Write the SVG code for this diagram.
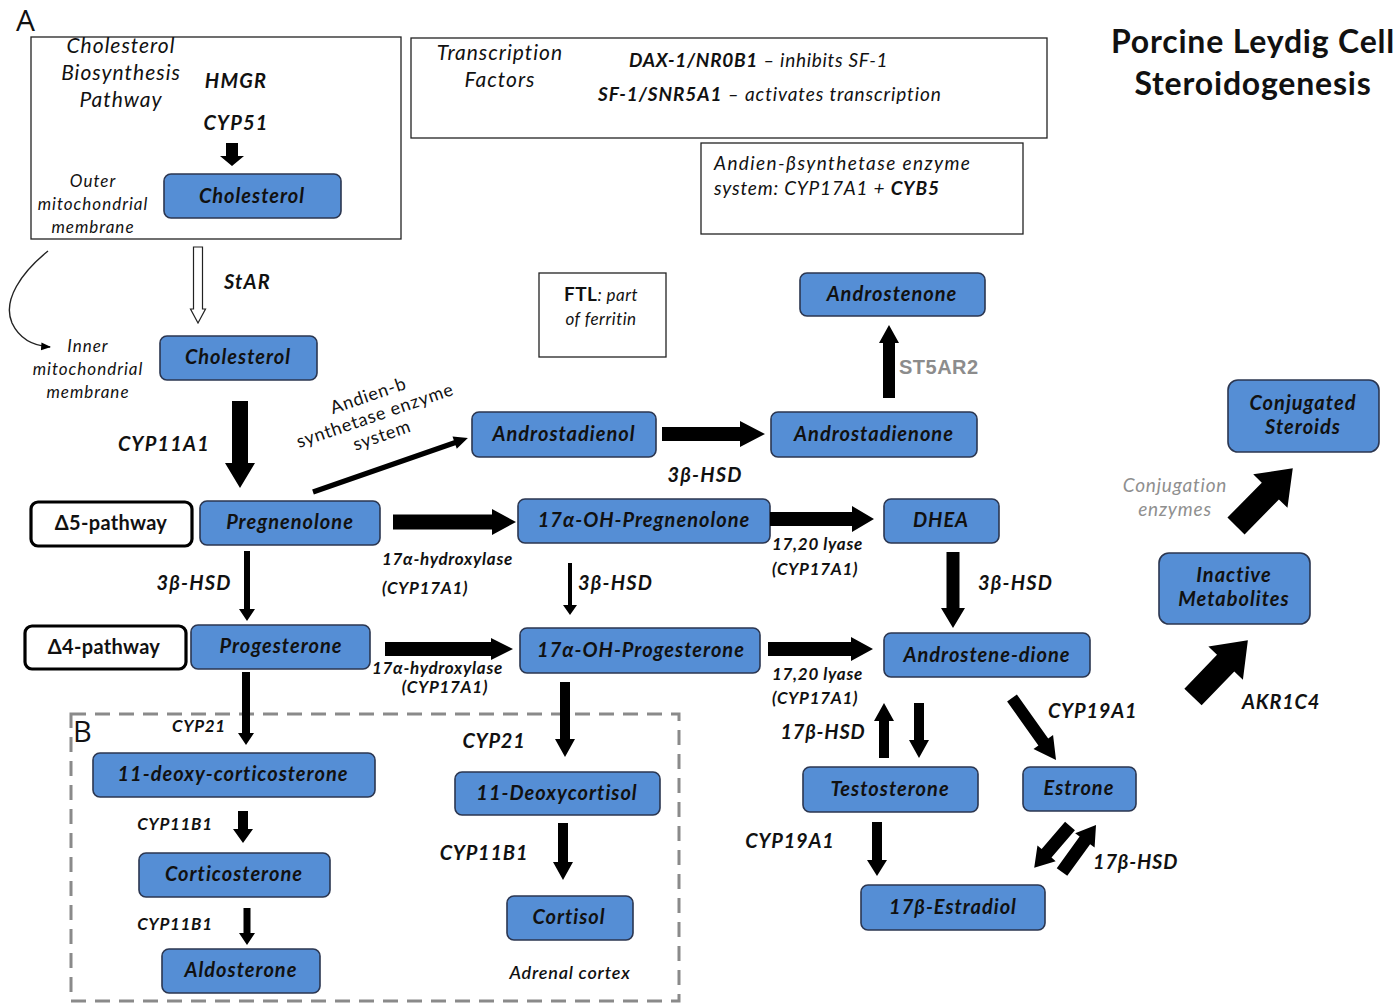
<svg xmlns="http://www.w3.org/2000/svg" width="1399" height="1004" viewBox="0 0 1399 1004">
<style>
text{font-family:Lato,"Open Sans","Liberation Sans",sans-serif;fill:#111}
.n rect{fill:#558ED5;stroke:#2b3650;stroke-width:1.6}
.n text{font-size:20px;font-weight:bold;font-style:italic;text-anchor:middle;letter-spacing:1px}
.box{fill:#fff;stroke:#222;stroke-width:1.3}
.pw rect{fill:#fff;stroke:#000;stroke-width:3.2}
.pw text{font-size:20px;font-weight:bold;text-anchor:middle;letter-spacing:0.3px}
.lb{font-weight:bold;font-style:italic;font-size:20px;letter-spacing:0.8px}
.lm{font-weight:bold;font-style:italic;font-size:20px;letter-spacing:1.2px}
.ls{font-weight:bold;font-style:italic;font-size:17px;letter-spacing:0.7px}
.it{font-style:italic;font-size:21px;text-anchor:middle;letter-spacing:1px}
.im{font-style:italic;font-size:17px;text-anchor:middle;letter-spacing:1px}
.c{text-anchor:middle}
.ar polygon{fill:#000}
</style>
<defs>
<marker id="mh" viewBox="0 0 10 10" refX="9" refY="5" markerWidth="7" markerHeight="7" orient="auto"><path d="M0,1 L10,5 L0,9 z" fill="#000"/></marker>
</defs>

<text x="16" y="31" style="font-family:'Open Sans',sans-serif;font-size:30px">A</text>
<text x="73" y="742" style="font-family:'Open Sans',sans-serif;font-size:29px">B</text>

<g id="title">
<text x="1253" y="53" class="c" style="font-size:32px;font-weight:bold;letter-spacing:0.8px">Porcine Leydig Cell</text>
<text x="1253" y="95" class="c" style="font-size:32px;font-weight:bold;letter-spacing:0.8px">Steroidogenesis</text>
</g>

<g id="biosynthesis-box">
<rect class="box" x="31" y="37" width="370" height="202"/>
<text class="it" x="121" y="53">Cholesterol</text>
<text class="it" x="121" y="80">Biosynthesis</text>
<text class="it" x="121" y="107">Pathway</text>
<text class="lm c" x="236" y="88">HMGR</text>
<text class="lm c" x="236" y="130">CYP51</text>
<text class="im" x="93" y="187">Outer</text>
<text class="im" x="93" y="210">mitochondrial</text>
<text class="im" x="93" y="233">membrane</text>
</g>

<g id="transcription-box">
<rect class="box" x="411" y="38" width="636" height="100"/>
<text class="it" x="500" y="60">Transcription</text>
<text class="it" x="500" y="87">Factors</text>
<text x="629" y="67" style="font-size:19px;letter-spacing:0.7px"><tspan font-weight="bold" font-style="italic">DAX-1/NR0B1</tspan><tspan font-style="italic"> – inhibits SF-1</tspan></text>
<text x="598" y="101" style="font-size:19px;letter-spacing:0.9px"><tspan font-weight="bold" font-style="italic">SF-1/SNR5A1</tspan><tspan font-style="italic"> – activates transcription</tspan></text>
</g>

<g id="andien-box">
<rect class="box" x="701" y="143" width="322" height="91"/>
<text x="714" y="170" style="font-size:19px;font-style:italic;letter-spacing:1.4px">Andien-βsynthetase enzyme</text>
<text x="714" y="195" style="font-size:19px;font-style:italic;letter-spacing:0.8px">system: CYP17A1 + <tspan font-weight="bold">CYB5</tspan></text>
</g>

<g id="ftl-box">
<rect class="box" x="539" y="273" width="127" height="84"/>
<text class="c" x="601" y="301" style="font-size:17px;font-style:italic;letter-spacing:0.5px"><tspan font-weight="bold" font-style="normal" style="font-size:19px">FTL</tspan>: part</text>
<text class="c" x="601" y="325" style="font-size:17px;font-style:italic;letter-spacing:0.5px">of ferritin</text>
</g>

<rect x="71" y="714" width="608" height="287" fill="none" stroke="#8a8a8a" stroke-width="3" stroke-dasharray="15,9"/>

<g id="n-cholesterol1" class="n"><rect x="164" y="174" width="177" height="44" rx="7"/><text x="252" y="203">Cholesterol</text></g>
<g id="n-cholesterol2" class="n"><rect x="160" y="336" width="157" height="44" rx="7"/><text x="238" y="364">Cholesterol</text></g>
<g id="n-androstadienol" class="n"><rect x="472" y="412" width="184" height="45" rx="7"/><text x="564" y="441">Androstadienol</text></g>
<g id="n-androstadienone" class="n"><rect x="771" y="412" width="206" height="45" rx="7"/><text x="874" y="441">Androstadienone</text></g>
<g id="n-androstenone" class="n"><rect x="800" y="273" width="185" height="43" rx="7"/><text x="892" y="301">Androstenone</text></g>
<g id="n-conjugated" class="n"><rect x="1228" y="380" width="151" height="72" rx="10"/><text x="1303" y="410">Conjugated</text><text x="1303" y="434">Steroids</text></g>
<g id="n-inactive" class="n"><rect x="1159" y="553" width="151" height="71" rx="10"/><text x="1234" y="582">Inactive</text><text x="1234" y="606">Metabolites</text></g>
<g id="n-d5" class="pw"><rect x="31" y="502" width="161" height="44" rx="7"/><text x="111" y="530">Δ5-pathway</text></g>
<g id="n-pregnenolone" class="n"><rect x="200" y="501" width="180" height="44" rx="7"/><text x="290" y="529">Pregnenolone</text></g>
<g id="n-17ohpreg" class="n"><rect x="518" y="499" width="252" height="44" rx="7"/><text x="644" y="527">17α-OH-Pregnenolone</text></g>
<g id="n-dhea" class="n"><rect x="884" y="499" width="115" height="44" rx="7"/><text x="941" y="527">DHEA</text></g>
<g id="n-d4" class="pw"><rect x="25" y="626" width="161" height="43" rx="7"/><text x="104" y="654">Δ4-pathway</text></g>
<g id="n-progesterone" class="n"><rect x="191" y="625" width="179" height="44" rx="7"/><text x="281" y="653">Progesterone</text></g>
<g id="n-17ohprog" class="n"><rect x="520" y="628" width="240" height="45" rx="7"/><text x="641" y="657">17α-OH-Progesterone</text></g>
<g id="n-androstenedione" class="n"><rect x="884" y="633" width="206" height="44" rx="7"/><text x="987" y="662">Androstene-dione</text></g>
<g id="n-11doc" class="n"><rect x="93" y="753" width="282" height="44" rx="7"/><text x="233" y="781">11-deoxy-corticosterone</text></g>
<g id="n-corticosterone" class="n"><rect x="139" y="853" width="191" height="44" rx="7"/><text x="234" y="881">Corticosterone</text></g>
<g id="n-aldosterone" class="n"><rect x="162" y="949" width="158" height="44" rx="7"/><text x="241" y="977">Aldosterone</text></g>
<g id="n-11deoxycortisol" class="n"><rect x="455" y="772" width="205" height="43" rx="7"/><text x="557" y="800">11-Deoxycortisol</text></g>
<g id="n-cortisol" class="n"><rect x="507" y="896" width="126" height="44" rx="7"/><text x="569" y="924">Cortisol</text></g>
<g id="n-testosterone" class="n"><rect x="803" y="767" width="175" height="45" rx="7"/><text x="890" y="796">Testosterone</text></g>
<g id="n-estrone" class="n"><rect x="1023" y="767" width="113" height="44" rx="7"/><text x="1079" y="795">Estrone</text></g>
<g id="n-estradiol" class="n"><rect x="861" y="885" width="184" height="45" rx="7"/><text x="953" y="914">17β-Estradiol</text></g>

<g id="connectors" class="ar">
<polygon points="226,143 238,143 238,156 244,156 232,166 220,156 226,156"/>
<polygon points="193.5,247 202.5,247 202.5,309 205.5,309 198,323 190.5,309 193.5,309" style="fill:#fff;stroke:#222;stroke-width:1.2"/>
<path d="M48,251 C22,272 2,300 12,323 C20,340 35,346 50,347" fill="none" stroke="#222" stroke-width="1.4" marker-end="url(#mh)"/>
<polygon points="232,401 248,401 248,463 255,463 240,488 225,463 232,463"/>
<polygon transform="translate(313,492) rotate(-19.2)" points="0,-2.6 150,-2.6 150,-6.5 164,0 150,6.5 150,2.6 0,2.6"/>
<polygon points="662,427 740,427 740,421 765,434 740,447 740,441 662,441"/>
<polygon points="883,398 895,398 895,343 899,343 889,325 879,343 883,343"/>
<polygon points="393,514.5 492,514.5 492,509 516,522 492,535 492,529.5 393,529.5"/>
<polygon points="770,512 852,512 852,506 874,519 852,532 852,526 770,526"/>
<polygon points="244,551 250,551 250,609 255,609 247,621 239,609 244,609"/>
<polygon points="568,563 572,563 572,605 577,605 570,615 563,605 568,605"/>
<polygon points="946.5,552 959.5,552 959.5,608 965,608 953,628 941,608 946.5,608"/>
<polygon points="385,642 491,642 491,638 513,649 491,660 491,656 385,656"/>
<polygon points="768,642 851,642 851,637 873,649 851,661 851,656 768,656"/>
<polygon points="242,672 250,672 250,733 254,733 246,745 238,733 242,733"/>
<polygon points="560,682 570,682 570,739 575,739 565,757 555,739 560,739"/>
<polygon points="238,811 248,811 248,829 253,829 243,843 233,829 238,829"/>
<polygon points="243.5,908 250.5,908 250.5,933 255,933 247,945 239,933 243.5,933"/>
<polygon points="558,823 568,823 568,862 573,862 563,880 553,862 558,862"/>
<polygon points="879,758 889,758 889,721 894,721 884,703 874,721 879,721"/>
<polygon points="914,703 924,703 924,740 929,740 919,758 909,740 914,740"/>
<polygon points="872,822 882,822 882,860 887,860 877,876 867,860 872,860"/>
<polygon transform="translate(1012,698) rotate(54.6)" points="0,-6 54,-6 54,-12 76,0 54,12 54,6 0,6"/>
<polygon transform="translate(1070,826) rotate(130.6)" points="0,-6.5 36,-6.5 36,-12 55,0 36,12 36,6.5 0,6.5"/>
<polygon transform="translate(1062,872) rotate(-54.1)" points="0,-6.5 39,-6.5 39,-12 58,0 39,12 39,6.5 0,6.5"/>
<polygon transform="translate(1193,697) rotate(-46)" points="0,-12 47,-12 47,-24 79,0 47,24 47,12 0,12"/>
<polygon transform="translate(1236,526) rotate(-45.5)" points="0,-12 49,-12 49,-24 81,0 49,24 49,12 0,12"/>
</g>

<g id="labels">
<text class="lm" x="224" y="289">StAR</text>
<text class="im" x="88" y="352">Inner</text>
<text class="im" x="88" y="375">mitochondrial</text>
<text class="im" x="88" y="398">membrane</text>
<text class="lm c" x="164" y="451">CYP11A1</text>
<g transform="translate(378,424) rotate(-19)" style="font-size:18px;letter-spacing:0.8px">
<text class="c" x="0" y="-24">Andien-b</text>
<text class="c" x="0" y="-3">synthetase enzyme</text>
<text class="c" x="0" y="18">system</text>
</g>
<text class="lm c" x="705" y="482">3β-HSD</text>
<text x="899" y="374" style="font-family:'Liberation Sans',Arial,sans-serif;font-weight:bold;font-size:20px;letter-spacing:0.5px;fill:#8c8c8c">ST5AR2</text>
<text class="ls" x="382" y="565">17α-hydroxylase</text>
<text class="ls" x="382" y="594">(CYP17A1)</text>
<text class="lm c" x="194" y="590">3β-HSD</text>
<text class="lm" x="578" y="590">3β-HSD</text>
<text class="ls" x="772" y="550">17,20 lyase</text>
<text class="ls" x="772" y="575">(CYP17A1)</text>
<text class="lm" x="978" y="590">3β-HSD</text>
<text class="ls" x="372" y="674">17α-hydroxylase</text>
<text class="ls c" x="445" y="693">(CYP17A1)</text>
<text class="ls" x="772" y="680">17,20 lyase</text>
<text class="ls" x="772" y="704">(CYP17A1)</text>
<text class="ls c" x="199" y="732">CYP21</text>
<text class="lb c" x="494" y="748">CYP21</text>
<text class="ls c" x="175" y="830">CYP11B1</text>
<text class="ls c" x="175" y="930">CYP11B1</text>
<text class="lb c" x="484" y="860">CYP11B1</text>
<text x="570" y="979" class="c" style="font-size:18px;font-style:italic;font-weight:600;letter-spacing:0.8px">Adrenal cortex</text>
<text class="lb c" x="823" y="739">17β-HSD</text>
<text class="lb" x="1048" y="718">CYP19A1</text>
<text class="lb c" x="790" y="848">CYP19A1</text>
<text class="lb" x="1093" y="869">17β-HSD</text>
<text class="lb" x="1242" y="709">AKR1C4</text>
<text class="c" x="1175" y="492" style="font-size:19px;font-style:italic;letter-spacing:0.8px;fill:#8f8f8f">Conjugation</text>
<text class="c" x="1175" y="516" style="font-size:19px;font-style:italic;letter-spacing:0.8px;fill:#8f8f8f">enzymes</text>
</g>
</svg>
